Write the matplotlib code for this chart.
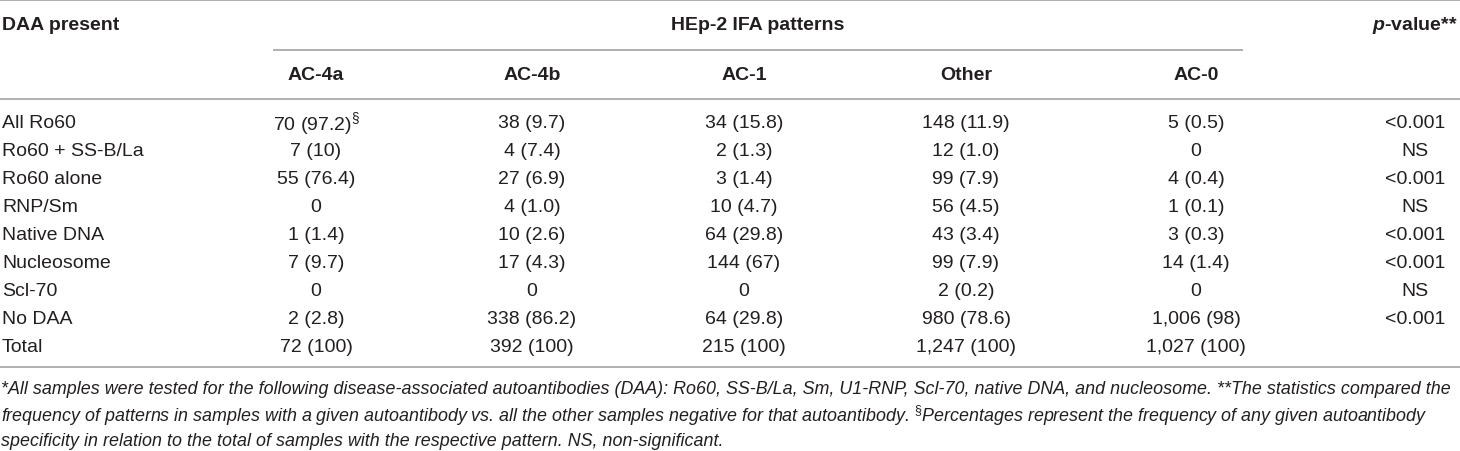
import matplotlib
matplotlib.use("Agg")
import matplotlib.pyplot as plt

plt.rcParams['font.family'] = ['Liberation Sans', 'DejaVu Sans']
plt.rcParams['mathtext.fontset'] = 'custom'
plt.rcParams['mathtext.rm'] = 'Liberation Sans'
plt.rcParams['mathtext.it'] = 'Liberation Sans:italic'
plt.rcParams['mathtext.bf'] = 'Liberation Sans:bold'
plt.rcParams['mathtext.bfit'] = 'Liberation Sans:bold:italic'

# table content
row_labels = ["All Ro60", "Ro60 + SS-B/La", "Ro60 alone", "RNP/Sm", "Native DNA",
              "Nucleosome", "Scl-70", "No DAA", "Total"]
patterns = ["AC-4a", "AC-4b", "AC-1", "Other", "AC-0"]
ac4a = [r"70 (97.2)$^{\S}$", "7 (10)", "55 (76.4)", "0", "1 (1.4)", "7 (9.7)", "0", "2 (2.8)", "72 (100)"]
ac4b = ["38 (9.7)", "4 (7.4)", "27 (6.9)", "4 (1.0)", "10 (2.6)", "17 (4.3)", "0", "338 (86.2)", "392 (100)"]
ac1 = ["34 (15.8)", "2 (1.3)", "3 (1.4)", "10 (4.7)", "64 (29.8)", "144 (67)", "0", "64 (29.8)", "215 (100)"]
other = ["148 (11.9)", "12 (1.0)", "99 (7.9)", "56 (4.5)", "43 (3.4)", "99 (7.9)", "2 (0.2)", "980 (78.6)", "1,247 (100)"]
ac0 = ["5 (0.5)", "0", "4 (0.4)", "1 (0.1)", "3 (0.3)", "14 (1.4)", "0", "1,006 (98)", "1,027 (100)"]
pvals = ["<0.001", "NS", "<0.001", "NS", "<0.001", "<0.001", "NS", "<0.001", ""]
footnote = [
    "*All samples were tested for the following disease-associated autoantibodies (DAA): Ro60, SS-B/La, Sm, U1-RNP, Scl-70, native DNA, and nucleosome. **The statistics compared the",
    r"frequency of patterns in samples with a given autoantibody vs. all the other samples negative for that autoantibody. $^{\S}$Percentages represent the frequency of any given autoantibody",
    "specificity in relation to the total of samples with the respective pattern. NS, non-significant.",
]

W, H = 1460, 452
fig = plt.figure(figsize=(W / 100, H / 100), dpi=100)
ax = fig.add_axes([0, 0, 1, 1])
ax.set_xlim(0, W)
ax.set_ylim(H, 0)
ax.axis('off')

txt = '#231f20'
rule = '#9a9a9a'
fs = 14

col_x = [316, 532, 744, 966, 1196]
p_x = 1415
row_y0, row_dy = 124, 27.9

# rules
for y in (1, 100, 368):
    ax.plot([0, W], [y, y], color=rule, lw=1.1, solid_capstyle='butt')
ax.plot([273, 1243], [51, 51], color=rule, lw=1.1, solid_capstyle='butt')

# headers
ax.text(2, 26, "DAA present", fontsize=fs, fontweight='bold', color=txt, ha='left', va='center')
ax.text(758, 26, "HEp-2 IFA patterns", fontsize=fs, fontweight='bold', color=txt, ha='center', va='center')
ax.text(p_x, 26, r"$\mathbfit{p}$-value**", fontsize=fs, fontweight='bold', color=txt, ha='center', va='center')
for x, name in zip(col_x, patterns):
    ax.text(x, 76, name, fontsize=fs, fontweight='bold', color=txt, ha='center', va='center')

# body
columns = [ac4a, ac4b, ac1, other, ac0]
for i, label in enumerate(row_labels):
    y = row_y0 + i * row_dy
    ax.text(2, y, label, fontsize=fs, color=txt, ha='left', va='center')
    for x, col in zip(col_x, columns):
        ax.text(x, y, col[i], fontsize=fs, color=txt, ha='center', va='center')
    ax.text(p_x, y, pvals[i], fontsize=fs, color=txt, ha='center', va='center')

# footnote
for j, line in enumerate(footnote):
    ax.text(1, 390 + j * 26, line, fontsize=12.9, style='italic',
            color=txt, ha='left', va='center')

fig.savefig("out.png", dpi=100)
